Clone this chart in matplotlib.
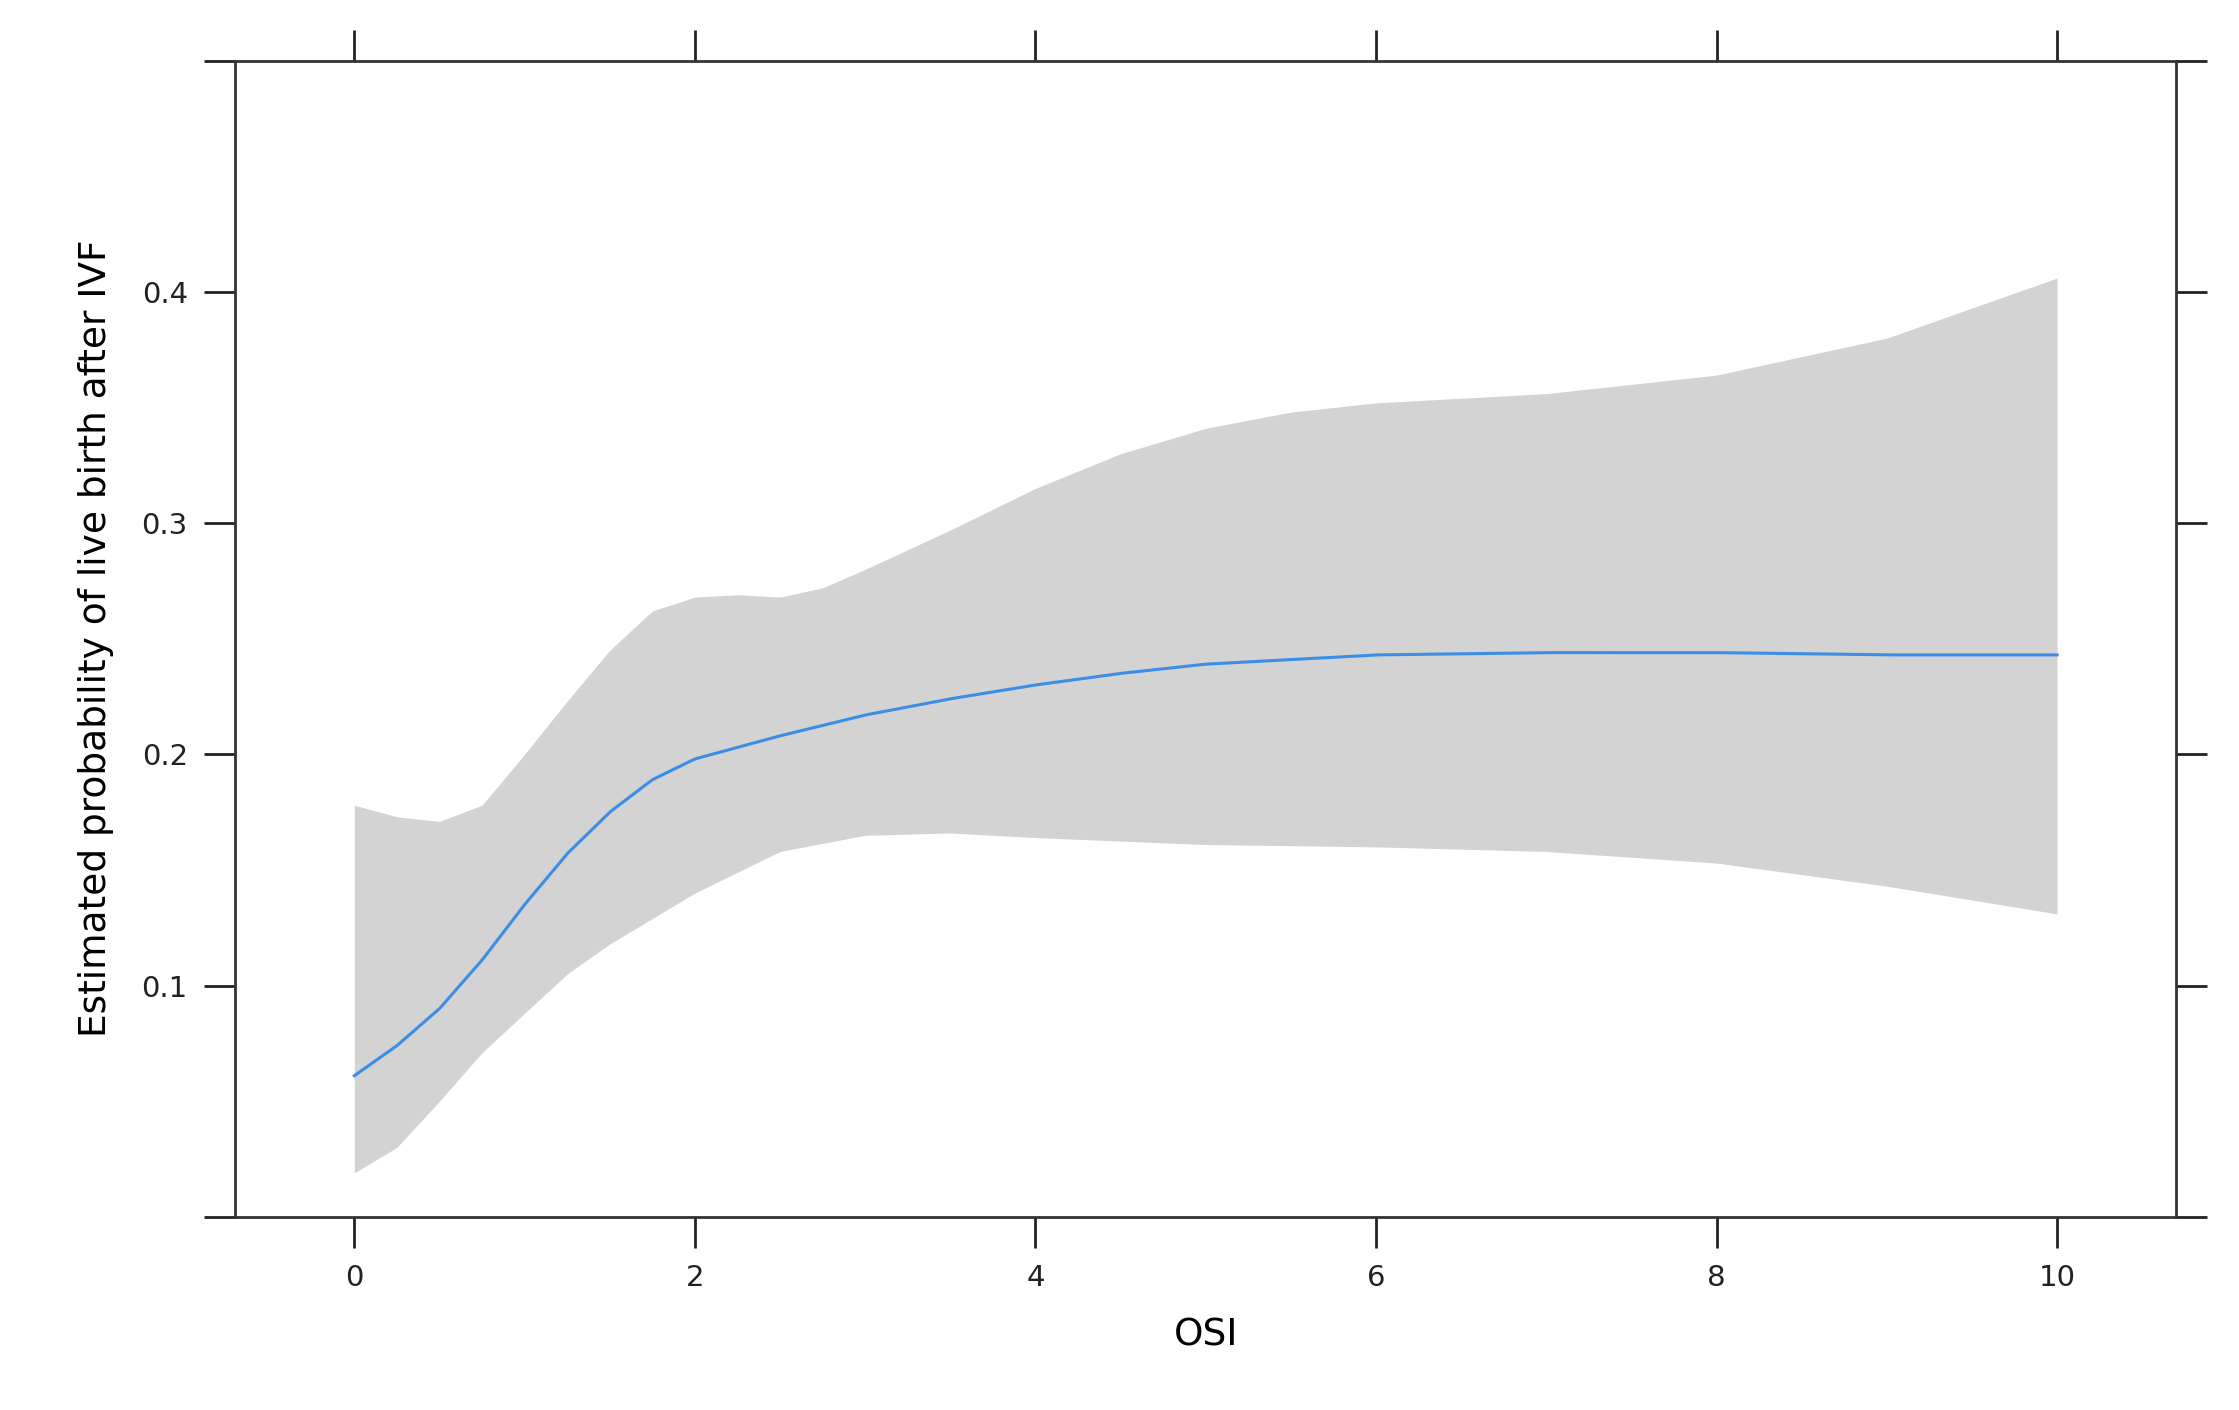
import numpy as np
import matplotlib
matplotlib.use('Agg')
import matplotlib.pyplot as plt

# values
fit_x = [0, 0.25, 0.5, 0.75, 1, 1.25, 1.5, 1.75, 2, 2.5, 3, 3.5, 4, 4.5, 5, 6, 7, 8, 9, 10]
fit_y = [0.061, 0.074, 0.090, 0.111, 0.135, 0.157, 0.175, 0.189, 0.198, 0.208, 0.217, 0.224, 0.230, 0.235, 0.239, 0.243, 0.244, 0.244, 0.243, 0.243]

upper_x = [0, 0.25, 0.5, 0.75, 1, 1.25, 1.5, 1.75, 2, 2.25, 2.5, 2.75, 3, 3.5, 4, 4.5, 5, 5.5, 6, 7, 8, 9, 10]
upper_y = [0.178, 0.173, 0.171, 0.178, 0.200, 0.223, 0.245, 0.262, 0.268, 0.269, 0.268, 0.272, 0.280, 0.297, 0.315, 0.330, 0.341, 0.348, 0.352, 0.356, 0.364, 0.380, 0.406]

lower_x = [0, 0.25, 0.5, 0.75, 1, 1.25, 1.5, 2, 2.5, 3, 3.5, 4, 5, 6, 7, 8, 9, 10]
lower_y = [0.019, 0.030, 0.050, 0.071, 0.088, 0.105, 0.118, 0.140, 0.158, 0.165, 0.166, 0.164, 0.161, 0.160, 0.158, 0.153, 0.143, 0.131]

xs = np.linspace(0, 10, 400)
up = np.interp(xs, upper_x, upper_y)
lo = np.interp(xs, lower_x, lower_y)
fit = np.interp(xs, fit_x, fit_y)

fig = plt.figure(figsize=(22.39, 14.10), dpi=100)
ax = fig.add_axes([0.105, 0.137, 0.867, 0.820])

ax.fill_between(xs, lo, up, color='#d3d3d3', linewidth=0)
ax.plot(xs, fit, color='#3a8ee6', linewidth=2.2)

ax.set_xlim(-0.7, 10.7)
ax.set_ylim(0, 0.5)
ax.set_xticks([0, 2, 4, 6, 8, 10])
ax.set_yticks([0, 0.1, 0.2, 0.3, 0.4, 0.5])
ax.set_yticklabels(['', '0.1', '0.2', '0.3', '0.4', ''])
ax.tick_params(direction='out', length=22, width=2, labelsize=21, colors='#222222',
               top=True, right=True, pad=12)
for s in ax.spines.values():
    s.set_linewidth(2)
    s.set_color('#333333')

ax.set_xlabel('OSI', fontsize=27, labelpad=18)
ax.set_ylabel('Estimated probability of live birth after IVF', fontsize=27, labelpad=20)

fig.savefig('out.png', dpi=100)
